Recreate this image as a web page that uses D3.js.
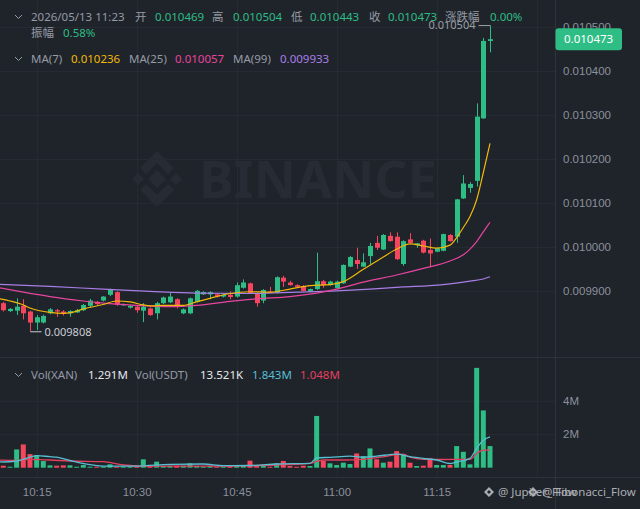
<!DOCTYPE html>
<html>
<head>
<meta charset="utf-8">
<script src="https://cdn.jsdelivr.net/npm/d3@7"></script>
<style>
  body { margin: 0; background: #1f232a; }
  svg { display: block; font-family: "Noto Sans", "Noto Sans CJK SC", sans-serif; }
</style>
</head>
<body>
<div id="chart"></div>
<script>
// 1 minute candles, first one at 10:10
const startTime = "10:10";

const opens = [.009873,.009855,.009856,.009867,.009854,.009829,.009829,.009850,.009857,.009854,
  .009850,.009852,.009857,.009867,.009876,.009879,.009892,.009898,.009868,.009863,
  .009865,.009856,.009861,.009850,.009873,.009875,.009882,.009850,.009850,.009876,
  .009893,.009893,.009893,.009888,.009892,.009888,.009908,.009918,.009895,.009879,
  .009899,.009897,.009931,.009920,.009914,.009912,.009899,.009905,.009923,.009914,
  .009907,.009918,.009956,.009971,.009956,.009980,.010010,.009995,.010026,.010024,
  .009962,.010018,.010005,.010015,.009994,.009990,.009992,.010028,.010024,.010111,
  .010135,.010151,.010293,.010469];
const highs = [.009876,.009862,.009884,.009882,.009856,.009846,.009847,.009862,.009860,.009857,
  .009857,.009860,.009871,.009883,.009878,.009889,.009906,.009900,.009872,.009868,
  .009867,.009873,.009863,.009876,.009888,.009896,.009884,.009861,.009886,.009903,
  .009900,.009900,.009895,.009893,.009900,.009920,.009927,.009920,.009897,.009905,
  .009910,.009934,.009935,.009924,.009916,.009914,.009906,.009988,.009926,.009924,
  .009924,.009961,.009980,.009999,.009986,.010010,.010026,.010030,.010034,.010034,
  .010016,.010032,.010010,.010017,.010020,.009999,.010031,.010030,.010110,.010164,
  .010148,.010327,.010476,.010504];
const lows = [.009854,.009853,.009846,.009836,.009808,.009812,.009827,.009848,.009842,.009845,
  .009842,.009851,.009855,.009864,.009869,.009877,.009889,.009867,.009867,.009861,
  .009851,.009830,.009844,.009836,.009871,.009873,.009861,.009848,.009848,.009875,
  .009892,.009882,.009886,.009886,.009882,.009886,.009906,.009894,.009865,.009873,
  .009896,.009895,.009910,.009913,.009908,.009900,.009898,.009903,.009908,.009913,
  .009905,.009917,.009955,.009951,.009955,.009961,.009994,.009994,.010013,.009971,
  .009958,.010009,.009999,.009986,.009955,.009989,.009991,.010013,.010010,.010110,
  .010124,.010138,.010292,.010443];
const closes = [.009857,.009860,.009865,.009850,.009829,.009841,.009844,.009859,.009854,.009850,
  .009855,.009857,.009869,.009879,.009871,.009888,.009905,.009869,.009871,.009867,
  .009857,.009865,.009846,.009873,.009886,.009888,.009865,.009859,.009884,.009901,
  .009898,.009898,.009888,.009892,.009887,.009914,.009920,.009895,.009873,.009903,
  .009897,.009932,.009922,.009914,.009910,.009901,.009905,.009923,.009914,.009922,
  .009922,.009960,.009978,.009962,.009966,.010003,.009999,.010028,.010014,.009973,
  .010014,.010010,.010009,.009988,.009986,.009998,.010030,.010014,.010109,.010145,
  .010144,.010297,.010469,.010473];
// volume in millions of XAN
const volumes = [0.12,0.06,1.09,1.39,0.81,0.75,0.40,0.14,0.12,0.14,
  0.14,0.06,0.16,0.06,0.06,0.06,0.20,0.06,0.04,0.06,
  0.06,0.50,0.10,0.36,0.10,0.12,0.12,0.12,0.26,0.10,
  0.06,0.10,0.06,0.06,0.10,0.16,0.12,0.42,0.12,0.16,
  0.06,0.26,0.40,0.10,0.06,0.12,0.10,3.09,0.40,0.26,
  0.16,0.30,0.22,0.85,0.69,1.15,0.50,0.30,0.36,0.99,
  0.81,0.30,0.10,0.12,0.56,0.16,0.16,0.16,1.29,0.95,
  0.20,5.96,3.42,1.291];

// moving averages
const ma7Times = ["10:09","10:11","10:13","10:14","10:17","10:19","10:20","10:22","10:25","10:27","10:29","10:31","10:32","10:34","10:37","10:39","10:41","10:44","10:47","10:50","10:53","10:56","10:59","11:01","11:04","11:07","11:09","11:11","11:13","11:15","11:17","11:18","11:19","11:20","11:21","11:22","11:23"];
const ma7Vals = [.009884,.009878,.009869,.009862,.009852,.009850,.009851,.009860,.009870,.009878,.009876,.009869,.009867,.009868,.009868,.009876,.009884,.009895,.009899,.009898,.009905,.009913,.009915,.009922,.009950,.009978,.009996,.010008,.010003,.009998,.010005,.010022,.010045,.010070,.010108,.010170,.010236];
const ma25Times = ["10:09","10:13","10:17","10:22","10:25","10:30","10:35","10:39","10:44","10:48","10:53","10:57","11:00","11:04","11:09","11:13","11:17","11:19","11:20","11:21","11:22","11:23"];
const ma25Vals = [.009909,.009898,.009888,.009878,.009873,.009868,.009865,.009868,.009877,.009883,.009888,.009896,.009905,.009921,.009937,.009952,.009969,.009983,.009996,.010013,.010035,.010057];
const ma99Times = ["10:09","10:17","10:25","10:32","10:39","10:47","10:54","11:00","11:05","11:10","11:14","11:17","11:20","11:22","11:23"];
const ma99Vals = [.009916,.009911,.009905,.009900,.009896,.009895,.009898,.009901,.009905,.009910,.009913,.009917,.009923,.009928,.009933];
const volMa5Times = ["10:09","10:10","10:12","10:14","10:15","10:17","10:18","10:20","10:22","10:25","10:30","10:35","10:40","10:43","10:47","10:51","10:56","10:57","10:59","11:02","11:04","11:06","11:09","11:11","11:13","11:15","11:17","11:18","11:20","11:21","11:22","11:23"];
const volMa5Vals = [0.36,0.34,0.40,0.63,0.72,0.66,0.63,0.43,0.25,0.10,0.10,0.20,0.22,0.12,0.13,0.22,0.26,0.59,0.62,0.69,0.63,0.69,0.81,0.66,0.55,0.46,0.25,0.34,0.56,1.15,1.64,1.843];
const volMa10Times = ["10:09","10:12","10:14","10:17","10:20","10:25","10:28","10:31","10:40","10:51","10:56","10:58","11:01","11:04","11:07","11:10","11:11","11:13","11:16","11:20","11:21","11:22","11:23"];
const volMa10Vals = [0.46,0.44,0.50,0.46,0.40,0.36,0.16,0.10,0.10,0.16,0.26,0.46,0.46,0.50,0.65,0.81,0.63,0.50,0.49,0.50,0.85,1.05,1.048];

const priceTicks = [0.0099, 0.0100, 0.0101, 0.0102, 0.0103, 0.0104, 0.0105];
const volTicks = [2, 4];
const timeTicks = ["10:15","10:30","10:45","11:00","11:15","11:30"];
const headerDate = "2026/05/13 11:23";
const changePct = "0.00%";
const volUsdt = "13.521K";

// colours
const green = "#2ebd85", red = "#f6465d";
const grey = "#8a919c", labelGrey = "#959ba5";
const maColors = ["#f0b90b", "#e8459f", "#a97ee6"];
const volMaColors = ["#58bfd2", "#e3405e"];

const W = 640, H = 509;
const axisX = 555;
const volBase = 467.7;

const svg = d3.select("#chart").append("svg").attr("width", W).attr("height", H);
svg.append("rect").attr("width", W).attr("height", H).attr("fill", "#1f232a");

const parse = d3.timeParse("%H:%M");
const t0 = parse(startTime);
const times = closes.map((d, i) => d3.timeMinute.offset(t0, i));

const x = d3.scaleTime().domain([times[0], times[times.length - 1]]).range([3.3, 490]);
const y = d3.scaleLinear().domain([0.0099, 0.0105]).range([291.3, 27.3]);
const yv = d3.scaleLinear().domain([0, 4]).range([volBase, 400.7]);

svg.append("clipPath").attr("id", "pane").append("rect").attr("width", axisX).attr("height", 357);
svg.append("clipPath").attr("id", "vpane").append("rect").attr("y", 358).attr("width", axisX).attr("height", 119);

// watermark logo
const wm = svg.append("g").attr("fill", "#272c34");
const logo = wm.append("g").attr("transform", "translate(157,179)");
const logoPolys = [
  [[0,-9],[9,0],[0,9],[-9,0]],
  [[-19,-6],[-13,0],[-19,6],[-25,0]],
  [[19,-6],[25,0],[19,6],[13,0]],
  [[0,-28],[17,-11],[11,-5],[0,-16],[-11,-5],[-17,-11]],
  [[0,28],[17,11],[11,5],[0,16],[-11,5],[-17,11]]
];
logo.selectAll("path").data(logoPolys).join("path").attr("d", d => "M" + d.join("L") + "Z");
wm.append("text").attr("x", 199).attr("y", 198).attr("font-size", 52).attr("font-weight", 700)
  .text("BINANCE");

// grid
const grid = svg.append("g").attr("stroke", "#262a32").attr("stroke-width", 1);
grid.selectAll(".vg").data(timeTicks).join("line")
  .attr("x1", d => Math.round(x(parse(d))) + 0.5).attr("x2", d => Math.round(x(parse(d))) + 0.5)
  .attr("y1", 0).attr("y2", 477);
grid.selectAll(".hg").data(priceTicks).join("line")
  .attr("x1", 0).attr("x2", axisX).attr("y1", d => Math.round(y(d)) + 0.5).attr("y2", d => Math.round(y(d)) + 0.5);
grid.selectAll(".vhg").data(volTicks).join("line")
  .attr("x1", 0).attr("x2", axisX).attr("y1", d => Math.round(yv(d)) + 0.5).attr("y2", d => Math.round(yv(d)) + 0.5);

// separators
const sep = svg.append("g").attr("stroke", "#2e333b");
sep.append("line").attr("x1", 0).attr("x2", W).attr("y1", 357.5).attr("y2", 357.5);
sep.append("line").attr("x1", 0).attr("x2", W).attr("y1", 477.5).attr("y2", 477.5);
sep.append("line").attr("x1", axisX + 0.5).attr("x2", axisX + 0.5).attr("y1", 0).attr("y2", H);

// volume bars
const bw = 5;
svg.append("g").attr("clip-path", "url(#vpane)")
  .selectAll("rect").data(volumes).join("rect")
  .attr("x", (d, i) => x(times[i]) - bw / 2)
  .attr("y", d => Math.min(yv(d), volBase - 1))
  .attr("width", bw)
  .attr("height", d => Math.max(1, volBase - yv(d)))
  .attr("fill", (d, i) => closes[i] >= opens[i] ? green : red);

// volume MAs
const vline = d3.line().x(d => x(parse(d[0]))).y(d => yv(d[1])).curve(d3.curveMonotoneX);
const vma = svg.append("g").attr("clip-path", "url(#vpane)").attr("fill", "none").attr("stroke-width", 1.3);
vma.append("path").attr("d", vline(d3.zip(volMa10Times, volMa10Vals))).attr("stroke", volMaColors[1]);
vma.append("path").attr("d", vline(d3.zip(volMa5Times, volMa5Vals))).attr("stroke", volMaColors[0]);

// candles
const cg = svg.append("g").attr("clip-path", "url(#pane)")
  .selectAll("g").data(closes).join("g")
  .attr("fill", (d, i) => closes[i] >= opens[i] ? green : red)
  .attr("stroke", (d, i) => closes[i] >= opens[i] ? green : red);
cg.append("line")
  .attr("x1", (d, i) => Math.round(x(times[i])) + 0.5).attr("x2", (d, i) => Math.round(x(times[i])) + 0.5)
  .attr("y1", (d, i) => y(highs[i])).attr("y2", (d, i) => y(lows[i]));
cg.append("rect").attr("stroke", "none")
  .attr("x", (d, i) => Math.round(x(times[i])) + 0.5 - bw / 2)
  .attr("y", (d, i) => y(Math.max(opens[i], closes[i])))
  .attr("width", bw)
  .attr("height", (d, i) => Math.max(1, Math.abs(y(opens[i]) - y(closes[i]))));

// price MAs
const pline = d3.line().x(d => x(parse(d[0]))).y(d => y(d[1])).curve(d3.curveMonotoneX);
const pma = svg.append("g").attr("clip-path", "url(#pane)").attr("fill", "none").attr("stroke-width", 1.2);
[[ma99Times, ma99Vals], [ma25Times, ma25Vals], [ma7Times, ma7Vals]].forEach((m, k) => {
  pma.append("path").attr("d", pline(d3.zip(m[0], m[1]))).attr("stroke", maColors[2 - k]);
});

const f6 = d3.format(".6f");

// low / high markers
const lo = d3.minIndex(lows), hi = d3.maxIndex(highs);
const lx = Math.round(x(times[lo])) + 0.5, ly = y(lows[lo]);
svg.append("line").attr("x1", lx).attr("x2", lx + 11).attr("y1", ly).attr("y2", ly).attr("stroke", "#c9cdd4");
svg.append("text").attr("x", lx + 14).attr("y", ly + 4.5).attr("fill", "#c9cdd4").attr("font-size", 11)
  .text(f6(lows[lo]));
const hx = Math.round(x(times[hi])) + 0.5, hy = y(highs[hi]);
svg.append("line").attr("x1", hx - 12).attr("x2", hx).attr("y1", hy).attr("y2", hy).attr("stroke", "#9aa0a8");
svg.append("text").attr("x", hx - 15).attr("y", hy + 3).attr("text-anchor", "end").attr("fill", "#9aa0a8")
  .attr("font-size", 11).text(f6(highs[hi]));

// header
const last = closes.length - 1;
function chevron(cy) {
  svg.append("path").attr("d", `M15,${cy - 2}L18.5,${cy + 1.5}L22,${cy - 2}`)
    .attr("fill", "none").attr("stroke", labelGrey).attr("stroke-width", 1);
}
function row(items, baseline) {
  svg.append("g").attr("font-size", 11.5).selectAll("text").data(items).join("text")
    .attr("x", d => d[1]).attr("y", baseline).attr("fill", d => d[2]).text(d => d[0]);
}
chevron(17);
row([
  [headerDate, 31, labelGrey], ["开", 135, labelGrey], [f6(opens[last]), 155, green],
  ["高", 212, labelGrey], [f6(highs[last]), 233, green],
  ["低", 291, labelGrey], [f6(lows[last]), 310, green],
  ["收", 369, labelGrey], [f6(closes[last]), 388, green],
  ["涨跌幅", 445, labelGrey], [changePct, 490, green]
], 21);
const amp = (highs[last] - lows[last]) / opens[last];
row([["振幅", 31, labelGrey], [d3.format(".2%")(amp), 63, green]], 36.5);
chevron(59);
row([
  ["MA(7)", 31, labelGrey], [f6(ma7Vals[ma7Vals.length - 1]), 71, maColors[0]],
  ["MA(25)", 129, labelGrey], [f6(ma25Vals[ma25Vals.length - 1]), 175, maColors[1]],
  ["MA(99)", 233, labelGrey], [f6(ma99Vals[ma99Vals.length - 1]), 280, maColors[2]]
], 63);
chevron(375);
row([
  ["Vol(XAN)", 31, labelGrey], [d3.format(".3f")(volumes[last]) + "M", 88, "#e6e8eb"],
  ["Vol(USDT)", 135, labelGrey], [volUsdt, 200, "#e6e8eb"],
  [d3.format(".3f")(volMa5Vals[volMa5Vals.length - 1]) + "M", 252, volMaColors[0]],
  [d3.format(".3f")(volMa10Vals[volMa10Vals.length - 1]) + "M", 300, volMaColors[1]]
], 379);

// right axes
const pAxis = svg.append("g").attr("transform", `translate(${axisX},0)`)
  .call(d3.axisRight(y).tickValues(priceTicks).tickFormat(f6).tickSize(0).tickPadding(8));
const vAxis = svg.append("g").attr("transform", `translate(${axisX},0)`)
  .call(d3.axisRight(yv).tickValues(volTicks).tickFormat(d => d + "M").tickSize(0).tickPadding(8));
const tAxis = svg.append("g").attr("transform", "translate(0,477)")
  .call(d3.axisBottom(x).tickValues(timeTicks.slice(0, 5).map(parse)).tickFormat(d3.timeFormat("%H:%M")).tickSize(0).tickPadding(11));
[pAxis, vAxis, tAxis].forEach(a => {
  a.select(".domain").remove();
  a.selectAll("text").attr("fill", grey).attr("font-size", 11.5).attr("font-family", null);
});

// last price badge
const by = y(closes[last]);
svg.append("rect").attr("x", axisX + 0.5).attr("y", by - 11).attr("width", 66.5).attr("height", 22)
  .attr("rx", 3).attr("fill", green);
svg.append("text").attr("x", 564).attr("y", by + 4.2).attr("fill", "#ffffff").attr("font-size", 11.5)
  .text(f6(closes[last]));

// bottom-right credit
const cr = svg.append("g").attr("fill", "#c3c7cd").attr("font-size", 11.5).attr("opacity", 0.85);
[[484, "@ Jupiter_Flow"], [528, "@ Fibonacci_Flow"]].forEach(d => {
  cr.append("path").attr("transform", `translate(${d[0] + 5},492)`)
    .attr("d", "M0,-5L5,0L0,5L-5,0Z M0,-2L2,0L0,2L-2,0Z").attr("fill-rule", "evenodd");
  cr.append("text").attr("x", d[0] + 14).attr("y", 496).text(d[1]);
});
</script>
</body>
</html>
